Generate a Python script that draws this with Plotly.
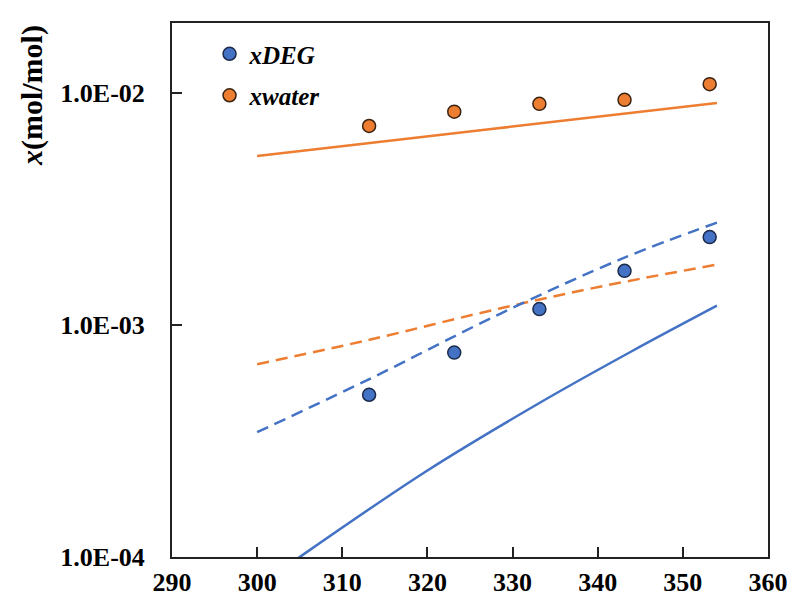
import plotly.graph_objects as go

# Experimental data
T_exp = [313.15, 323.15, 333.15, 343.15, 353.15]
x_deg_exp = [5.0e-4, 7.6e-4, 1.17e-3, 1.71e-3, 2.39e-3]
x_water_exp = [7.2e-3, 8.3e-3, 8.97e-3, 9.33e-3, 1.09e-2]

# Model curves
T_water_solid = [300, 327, 354]
x_water_solid = [5.35e-3, 6.95e-3, 9.05e-3]

T_water_dash = [300, 313, 328.6, 341, 354]
x_water_dash = [6.77e-4, 8.6e-4, 1.18e-3, 1.48e-3, 1.82e-3]

T_deg_dash = [300, 313, 328.6, 343, 354]
x_deg_dash = [3.45e-4, 5.8e-4, 1.12e-3, 1.94e-3, 2.76e-3]

T_deg_solid = [300, 305, 320, 333.2, 344, 354]
x_deg_solid = [7.4e-5, 1.0e-4, 2.36e-4, 4.62e-4, 7.7e-4, 1.21e-3]

y_tickvals = [1e-4, 1e-3, 1e-2]
y_ticktext = ["1.0E-04", "1.0E-03", "1.0E-02"]

BLUE = "#4472C4"
ORANGE = "#ED7D31"
FONT = "Liberation Serif"

fig = go.Figure()

fig.add_trace(go.Scatter(x=T_water_solid, y=x_water_solid, mode="lines",
                         line=dict(color=ORANGE, width=2.5, shape="spline"), showlegend=False))
fig.add_trace(go.Scatter(x=T_water_dash, y=x_water_dash, mode="lines",
                         line=dict(color=ORANGE, width=2.5, dash="12px,7px", shape="spline"),
                         showlegend=False))
fig.add_trace(go.Scatter(x=T_deg_dash, y=x_deg_dash, mode="lines",
                         line=dict(color=BLUE, width=2.5, dash="12px,7px", shape="spline"),
                         showlegend=False))
fig.add_trace(go.Scatter(x=T_deg_solid, y=x_deg_solid, mode="lines",
                         line=dict(color=BLUE, width=2.5, shape="spline"), showlegend=False))

fig.add_trace(go.Scatter(x=T_exp, y=x_deg_exp, mode="markers", name="<b><i>xDEG</i></b>",
                         marker=dict(color=BLUE, size=13, line=dict(color="#1c2a4a", width=1.5)),
                         legendgroup="a"))
fig.add_trace(go.Scatter(x=T_exp, y=x_water_exp, mode="markers", name="<b><i>xwater</i></b>",
                         marker=dict(color=ORANGE, size=13, line=dict(color="#3a2210", width=1.5)),
                         legendgroup="b"))

fig.add_annotation(text="<b><i>x</i>(mol/mol)</b>", xref="paper", yref="paper",
                   x=-0.235, y=0.865, textangle=-90, showarrow=False,
                   font=dict(family=FONT, size=30, color="black"),
                   xanchor="center", yanchor="middle")

fig.update_layout(
    width=794, height=602,
    margin=dict(l=172, r=26, t=23, b=45, autoexpand=False),
    paper_bgcolor="white", plot_bgcolor="white",
    font=dict(family=FONT, color="black"),
    showlegend=True,
    legend=dict(x=0.063, y=0.985, xanchor="left", yanchor="top",
                bgcolor="rgba(0,0,0,0)", font=dict(family=FONT, size=25, color="black"),
                tracegroupgap=6, itemwidth=30),
    xaxis=dict(range=[290, 360], dtick=10, tick0=290, showgrid=False, zeroline=False,
               showline=True, mirror=True, linecolor="#222", linewidth=2,
               ticks="inside", ticklen=10, tickwidth=2, tickcolor="#222",
               tickfont=dict(family=FONT, size=26, color="black"), automargin=False,
               ticklabelstandoff=1, tickprefix="<b>", ticksuffix="</b>"),
    yaxis=dict(type="log", range=[-4, -1.69897], tickvals=y_tickvals,
               ticktext=["<b>" + t + "</b>" for t in y_ticktext],
               showgrid=False, zeroline=False, automargin=False,
               showline=True, mirror=True, linecolor="#222", linewidth=2,
               ticks="inside", ticklen=10, tickwidth=2, tickcolor="#222",
               tickfont=dict(family=FONT, size=26, color="black"),
               ticklabelstandoff=20),
)

fig.write_html("out.html")
